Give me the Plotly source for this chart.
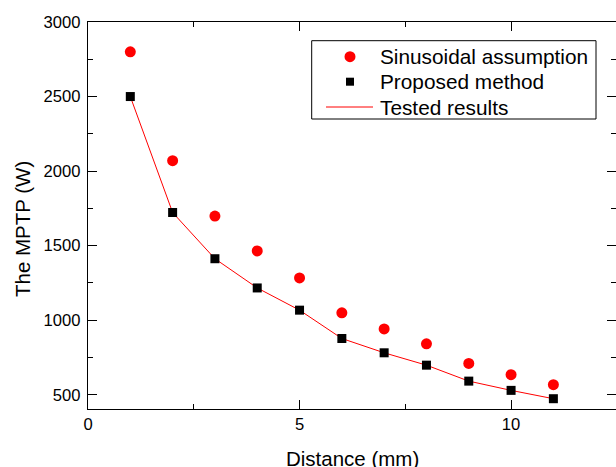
import plotly.graph_objects as go

distance = [1, 2, 3, 4, 5, 6, 7, 8, 9, 10, 11]
sinusoidal = [2800, 2070, 1698, 1464, 1283, 1049, 941, 841, 710, 634, 567]
proposed = [2500, 1722, 1412, 1216, 1067, 877, 781, 698, 591, 529, 473]
tested = [2500, 1722, 1412, 1216, 1067, 877, 781, 698, 591, 529, 473]
legend_labels = ["Sinusoidal assumption", "Proposed method", "Tested results"]

FONT = "Liberation Sans, Arial, sans-serif"
W, H = 616, 467
ML, MR, MT, MB = 88, 0, 22, 58
PW, PH = W - ML - MR, H - MT - MB


def px(x):
    return (x - ML) / PW


def py(y):
    return (H - MB - y) / PH


fig = go.Figure()
fig.add_trace(go.Scatter(x=distance, y=tested, mode="lines", name=legend_labels[2],
                         line=dict(color="#ff0000", width=1), showlegend=False))
fig.add_trace(go.Scatter(x=distance, y=sinusoidal, mode="markers", name=legend_labels[0],
                         marker=dict(symbol="circle", color="#ff0000", size=11), showlegend=False))
fig.add_trace(go.Scatter(x=distance, y=proposed, mode="markers", name=legend_labels[1],
                         marker=dict(symbol="square", color="#000000", size=9), showlegend=False))

axis_common = dict(
    showline=True, linecolor="black", linewidth=1.3, mirror="ticks",
    ticks="inside", ticklen=9, tickwidth=1.3, tickcolor="black",
    showgrid=False, zeroline=False,
    tickfont=dict(family=FONT, size=16.6, color="black"),
)

fig.update_xaxes(range=[0, 12.48], tickvals=[0, 5, 10],
                 minor=dict(ticks="inside", ticklen=5, tickwidth=1.3, tickcolor="black", dtick=2.5, tick0=0),
                 **axis_common)
fig.update_yaxes(range=[404, 3000], tickvals=[500, 1000, 1500, 2000, 2500, 3000],
                 minor=dict(ticks="inside", ticklen=5, tickwidth=1.3, tickcolor="black", dtick=250, tick0=0),
                 ticklabelstandoff=3,
                 **axis_common)

# manual legend (box, symbols, labels)
box = dict(x0=311.7, x1=596, y0=40.7, y1=119)
rows = [56.7, 81.7, 107]
sym_x = 350
shapes = [dict(type="rect", xref="paper", yref="paper",
               x0=px(box["x0"]), x1=px(box["x1"]), y0=py(box["y1"]), y1=py(box["y0"]),
               line=dict(color="black", width=1), fillcolor="white", layer="above")]
r = 5.5
shapes.append(dict(type="circle", xref="paper", yref="paper",
                   x0=px(sym_x - r), x1=px(sym_x + r), y0=py(rows[0] + r), y1=py(rows[0] - r),
                   fillcolor="#ff0000", line=dict(width=0), layer="above"))
s = 4
shapes.append(dict(type="rect", xref="paper", yref="paper",
                   x0=px(sym_x - s), x1=px(sym_x + s), y0=py(rows[1] + s), y1=py(rows[1] - s),
                   fillcolor="#000000", line=dict(width=0), layer="above"))
shapes.append(dict(type="line", xref="paper", yref="paper",
                   x0=px(326), x1=px(373), y0=py(rows[2]), y1=py(rows[2]),
                   line=dict(color="#ff0000", width=1), layer="above"))

annotations = [
    dict(text="The MPTP (W)", xref="paper", yref="paper", x=px(22), y=py(229),
         textangle=-90, showarrow=False, xanchor="center", yanchor="middle",
         font=dict(family=FONT, size=20.5, color="black")),
    dict(text="Distance (mm)", xref="paper", yref="paper", x=0.5, y=py(458),
         showarrow=False, xanchor="center", yanchor="middle",
         font=dict(family=FONT, size=20.5, color="black")),
]
for lab, ry in zip(legend_labels, rows):
    annotations.append(dict(text=lab, xref="paper", yref="paper", x=px(378), y=py(ry),
                            showarrow=False, xanchor="left", yanchor="middle",
                            font=dict(family=FONT, size=20.8, color="black")))

fig.update_layout(
    width=W, height=H,
    margin=dict(l=ML, r=MR, t=MT, b=MB),
    paper_bgcolor="white", plot_bgcolor="white",
    font=dict(family=FONT, size=16, color="black"),
    showlegend=False,
    shapes=shapes,
    annotations=annotations,
)

fig.write_html("out.html", config={"displayModeBar": False},
               post_script="document.body.style.margin='0';document.body.style.overflow='hidden';")
